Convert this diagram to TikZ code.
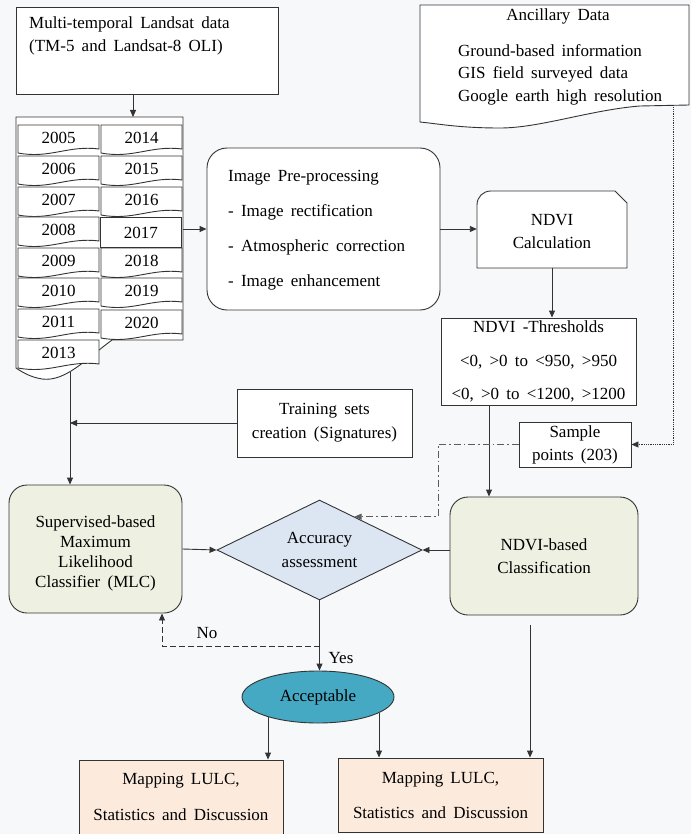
\documentclass[tikz,border=0pt]{standalone}
\usepackage{fontspec}
\setmainfont{Liberation Serif}[WordSpace=1.7]
\usetikzlibrary{arrows.meta,shapes.geometric,calc}
\definecolor{bg}{HTML}{F7F8FA}
\definecolor{ln}{HTML}{333333}
\definecolor{clsfill}{HTML}{EEF1E1}
\definecolor{accfill}{HTML}{DCE6F2}
\definecolor{okfill}{HTML}{46A9C4}
\definecolor{mapfill}{HTML}{FCEBDD}
\newcommand{\fs}{\fontsize{17}{20}\selectfont}
\newcommand{\yrbox}[4]{%
  \draw[line, fill=white] (#2,#3) -- (#2+81,#3) -- (#2+81,#3+24)
    .. controls (#2+50,#3+20) and (#2+32,#3+34) .. (#2,#3+28) -- cycle;
  \node (#1) at (#2+40.5,#3+13) {#4};
}
\begin{document}
\begin{tikzpicture}[x=1pt,y=-1pt,
  every node/.style={font=\fs, text=black, inner sep=0pt},
  line/.style={draw=ln, line width=0.9pt},
  tip/.style={-{Triangle[length=7pt,width=6pt]}},
  arr/.style={line, tip},
  dotarr/.style={draw=ln, line width=0.8pt, densely dotted, tip},
  dasharr/.style={draw=ln!80, line width=0.9pt, dash pattern=on 7pt off 3pt on 1.5pt off 3pt, tip},
  noarr/.style={draw=ln, line width=0.9pt, dash pattern=on 6pt off 3pt, tip},
  boxn/.style={line, fill=white, minimum width=#1},
  rbox/.style={line, rounded corners=18pt, align=center}
]
% background / bounding box
\fill[bg] (0,0) rectangle (691,834);
\useasboundingbox (0,0) rectangle (691,834);

% top data box
\node[line, fill=white, minimum width=262, minimum height=87, anchor=north west] (top) at (16,7) {};
\node[anchor=west, align=left] (toptext) at (29,35.5) {Multi-temporal Landsat data\\[3pt](TM-5 and Landsat-8 OLI)};

% ancillary document
\node[minimum width=269, minimum height=100, anchor=north west] (anc) at (420,5) {};
\draw[line, fill=white] (420,5) -- (689,5) -- (689,105) -- (640,106)
  .. controls (590,110) and (540,128) .. (500,128)
  .. controls (460,128) and (440,124) .. (420,122) -- cycle;
\node (anctitle) at (558,16) {Ancillary Data};
\node[anchor=west, align=left] (anctext) at (458,74.5) {Ground-based information\\[2.5pt]GIS field surveyed data\\[2.5pt]Google earth high resolution};

% year stack
\node[minimum width=167, minimum height=223, anchor=north west] (stack) at (16,117) {};
\draw[line, fill=white] (16,117) -- (183,117) -- (183,340) -- (112,340)
  .. controls (85,360) and (65,382) .. (42,379)
  .. controls (30,377) and (22,372) .. (16,368) -- cycle;
\yrbox{y2005}{18}{125}{2005}
\yrbox{y2006}{18}{156}{2006}
\yrbox{y2007}{18}{187}{2007}
\yrbox{y2008}{18}{217}{2008}
\yrbox{y2009}{18}{248}{2009}
\yrbox{y2010}{18}{278}{2010}
\yrbox{y2011}{18}{309}{2011}
\yrbox{y2013}{18}{340}{2013}
\yrbox{y2014}{101}{125}{2014}
\yrbox{y2015}{101}{156}{2015}
\yrbox{y2016}{101}{187}{2016}
\node[line, fill=white, minimum width=81, minimum height=30, anchor=north west] (y2017) at (100,217) {2017};
\yrbox{y2018}{101}{248}{2018}
\yrbox{y2019}{101}{278}{2019}
\yrbox{y2020}{101}{310}{2020}

% image pre-processing
\node[line, fill=white, rounded corners=20pt, minimum width=233, minimum height=162] (pre) at (323.5,229) {};
\node[anchor=west, align=left] (pretext) at (228,230.5) {Image Pre-processing\\[15pt]- Image rectification\\[15pt]- Atmospheric correction\\[15pt]- Image enhancement};

% NDVI calculation
\node[minimum width=150, minimum height=77, align=center] (calc) at (552,229.5) {};
\draw[line, fill=white] (477,268) -- (477,205) .. controls (477,197) and (483,191) .. (491,191)
  -- (615,191) -- (627,203) -- (627,268) -- cycle;
\node[align=center] (calctext) at (552,231.5) {NDVI\\[3pt]Calculation};

% thresholds
\node[boxn=195, minimum height=87, align=center] (thr) at (538.5,361.5) {NDVI -Thresholds\\[13.5pt]<0, >0 to <950, >950\\[13.5pt]<0, >0 to <1200, >1200};

% sample points
\node[boxn=112, minimum height=45, align=center] (samp) at (575,444.5) {Sample\\[3pt]points (203)};

% training
\node[boxn=175, minimum height=68, align=center] (train) at (324.5,423) {Training sets\\[4pt]creation (Signatures)};

% MLC
\node[rbox, fill=clsfill, minimum width=173, minimum height=128] (mlc) at (95.5,549) {};
\node[align=center] (mlctext) at (95.5,553) {Supervised-based\\Maximum\\Likelihood\\Classifier (MLC)};

% accuracy diamond
\node[line, fill=accfill, diamond, shape aspect=2.05, minimum width=205, minimum height=100, align=center] (acc) at (319.5,550) {Accuracy\\[4pt]assessment};

% NDVI-based classification
\node[rbox, fill=clsfill, minimum width=188, minimum height=118] (ncls) at (544,556) {NDVI-based\\[3pt]Classification};

% acceptable
\node[line, fill=okfill, ellipse, minimum width=152, minimum height=52] (ok) at (318,697) {Acceptable};

% mapping boxes
\node[line, fill=mapfill, minimum width=204, minimum height=74, align=center] (map1) at (181,797) {Mapping LULC,\\[16pt]Statistics and Discussion};
\node[line, fill=mapfill, minimum width=205, minimum height=74, align=center] (map2) at (440.5,795) {Mapping LULC,\\[15pt]Statistics and Discussion};

% helper coordinates
\coordinate (c1) at (133,0);
\coordinate (c2) at (489,0);
\coordinate (c3) at (673,0);
\coordinate (c4) at (438,0);
\coordinate (c5) at (70,0);
\coordinate (c6) at (70,372);
\coordinate (c7) at (0,646);
\coordinate (c8) at (162,0);
\coordinate (c10) at (530,625);
\coordinate (acctgt) at ($(acc.north)!0.34!(acc.east)$);
\coordinate (okL) at ($(ok.center)+(-50,19.6)$);
\coordinate (okR) at ($(ok.center)+(61,15.5)$);

% connectors
\draw[arr] (top.south -| c1) -- (stack.north -| c1);
\draw[arr] (pre.west -| stack.east) -- (pre.west);
\draw[arr] (pre.east) -- (pre.east -| calc.west);
\draw[arr] (calc.south) -- (calc.south |- thr.north);
\draw[arr] (thr.south -| c2) -- (ncls.north -| c2);
\draw[dotarr] (anc.south -| c3) |- (samp.east);
\draw[dasharr] (samp.west) -- (samp.west -| c4) -- (c4 |- acctgt) -- (acctgt);
\draw[arr] (train.west) -- (train.west -| c5);
\draw[arr] (c6) -- (mlc.north -| c6);
\draw[arr] (mlc.east) -- (acc.west);
\draw[arr] (ncls.west |- acc.east) -- (acc.east);
\draw[arr] (acc.south) -- (acc.south |- ok.north);
\draw[noarr] (acc.south |- c7) -| (mlc.south -| c8);
\node (nolab) at (207,633) {No};
\node (yeslab) at (341,658) {Yes};
\draw[arr] (okL) -- (okL |- map1.north);
\draw[arr] (okR) -- (okR |- map2.north);
\draw[arr] (c10) -- (c10 |- map2.north);
\end{tikzpicture}
\end{document}
